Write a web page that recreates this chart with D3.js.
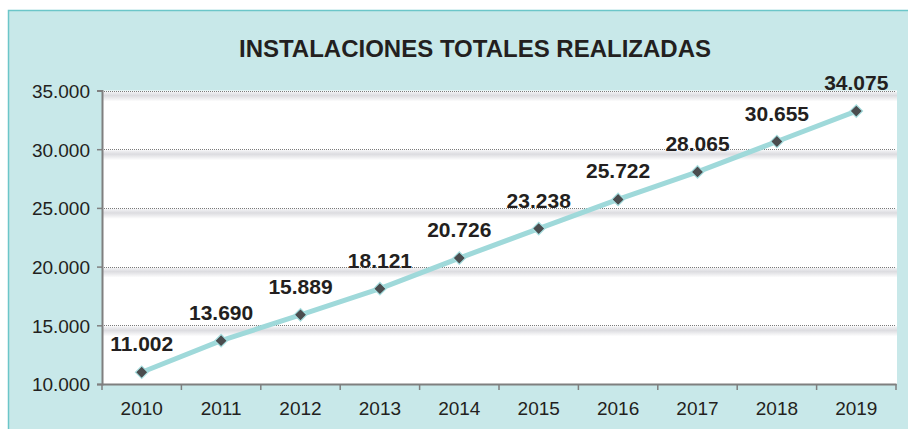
<!DOCTYPE html>
<html><head><meta charset="utf-8">
<script src="https://cdn.jsdelivr.net/npm/d3@7"></script>
<style>
html,body{margin:0;padding:0;background:#fff;}
svg{display:block;font-family:"Liberation Sans",Arial,Helvetica,sans-serif;}
</style></head>
<body>
<svg id="chart" width="908" height="429"></svg>
<script>
const title = "INSTALACIONES TOTALES REALIZADAS";
const years = ["2010","2011","2012","2013","2014","2015","2016","2017","2018","2019"];
// plotted positions
const values = [11002, 13690, 15889, 18121, 20726, 23238, 25722, 28065, 30655, 33250];
// printed data labels
const valueLabels = ["11.002","13.690","15.889","18.121","20.726","23.238","25.722","28.065","30.655","34.075"];
const yTicks = [10000, 15000, 20000, 25000, 30000, 35000];

const svg = d3.select("#chart");
const W = 908, H = 429;
const plot = {left: 102, right: 896, top: 90.5, bottom: 384};
const textColor = "#231f20";

const loc = d3.formatLocale({decimal: ",", thousands: ".", grouping: [3], currency: ["", ""]});
const fmt = loc.format(",");

// panel background
svg.append("rect").attr("x", 8.5).attr("y", 10.5).attr("width", W + 10).attr("height", H)
  .attr("fill", "#c8e8e9").attr("stroke", "#6cc6c9").attr("stroke-width", 1.5);

const defs = svg.append("defs");
const grad = defs.append("linearGradient").attr("id", "shade").attr("x1", 0).attr("y1", 0).attr("x2", 0).attr("y2", 1);
grad.append("stop").attr("offset", "0%").attr("stop-color", "#f4f4f6");
grad.append("stop").attr("offset", "40%").attr("stop-color", "#dcdce0");
grad.append("stop").attr("offset", "100%").attr("stop-color", "#ffffff");

const x = d3.scaleBand().domain(years).range([plot.left, plot.right]).padding(0);
const y = d3.scaleLinear().domain([10000, 35000]).range([plot.bottom, plot.top]);

// white plot area
svg.append("rect").attr("x", plot.left).attr("y", plot.top)
  .attr("width", plot.right - plot.left + 1).attr("height", plot.bottom - plot.top)
  .attr("fill", "#ffffff");

// shadow bands under gridlines
svg.append("g").selectAll("rect").data(yTicks.filter(d => d > 10000)).join("rect")
  .attr("x", plot.left).attr("width", plot.right - plot.left + 1)
  .attr("y", d => y(d) + 1).attr("height", 10)
  .attr("fill", "url(#shade)");

// gridlines
svg.append("g").selectAll("line").data(yTicks.filter(d => d > 10000)).join("line")
  .attr("x1", plot.left).attr("x2", plot.right)
  .attr("y1", d => Math.round(y(d)) + 0.5).attr("y2", d => Math.round(y(d)) + 0.5)
  .attr("stroke", "#7a7a7a").attr("stroke-width", 1).attr("stroke-dasharray", "1,1");

// y axis
const yAxis = svg.append("g").attr("transform", `translate(${plot.left},0)`)
  .call(d3.axisLeft(y).tickValues(yTicks).tickFormat(fmt).tickSize(5).tickPadding(7));
yAxis.select(".domain").attr("stroke", "#7f7f7f").attr("stroke-width", 2);
yAxis.selectAll(".tick line").attr("stroke", "#7f7f7f").attr("stroke-width", 1.5);
yAxis.selectAll(".tick text").attr("fill", textColor).attr("font-size", 19)
  .attr("font-family", "'Liberation Sans',Arial,sans-serif").attr("dy", "0.36em");

// x axis
const xAxis = svg.append("g").attr("transform", `translate(0,${plot.bottom})`)
  .call(d3.axisBottom(x).tickSize(0).tickPadding(0));
xAxis.select(".domain").attr("stroke", "#7f7f7f").attr("stroke-width", 2);
xAxis.selectAll(".tick text").attr("fill", textColor).attr("font-size", 19)
  .attr("font-family", "'Liberation Sans',Arial,sans-serif")
  .attr("y", 31).attr("dy", 0);
// ticks at band boundaries
const bounds = years.map(d => x(d)).concat([plot.right]);
xAxis.append("g").selectAll("line").data(bounds).join("line")
  .attr("x1", d => d).attr("x2", d => d).attr("y1", 0).attr("y2", 6)
  .attr("stroke", "#7f7f7f").attr("stroke-width", 1.5);

// line
const cx = d => x(d) + x.bandwidth() / 2;
const line = d3.line().x((d, i) => cx(years[i])).y(d => y(d));
svg.append("path").datum(values).attr("d", line)
  .attr("fill", "none").attr("stroke", "#9fd9da").attr("stroke-width", 5)
  .attr("stroke-linejoin", "round");

// markers (square rotated 45°)
const sym = d3.symbol().type(d3.symbolSquare).size(78);
svg.append("g").selectAll("path").data(values).join("path")
  .attr("d", sym)
  .attr("transform", (d, i) => `translate(${cx(years[i])},${y(d)}) rotate(45)`)
  .attr("fill", "#4a4c4e").attr("stroke", "#a8dfe0").attr("stroke-width", 1.2);

// data labels
svg.append("g").selectAll("text").data(values).join("text")
  .attr("x", (d, i) => cx(years[i]))
  .attr("y", (d, i) => y(d) - 21)
  .attr("text-anchor", "middle")
  .attr("font-size", 21).attr("font-weight", "bold").attr("fill", textColor)
  .text((d, i) => valueLabels[i]);

// title
svg.append("text").attr("x", 475).attr("y", 57).attr("text-anchor", "middle")
  .attr("font-size", 24).attr("font-weight", "bold").attr("fill", textColor)
  .text(title);
</script>
</body></html>
